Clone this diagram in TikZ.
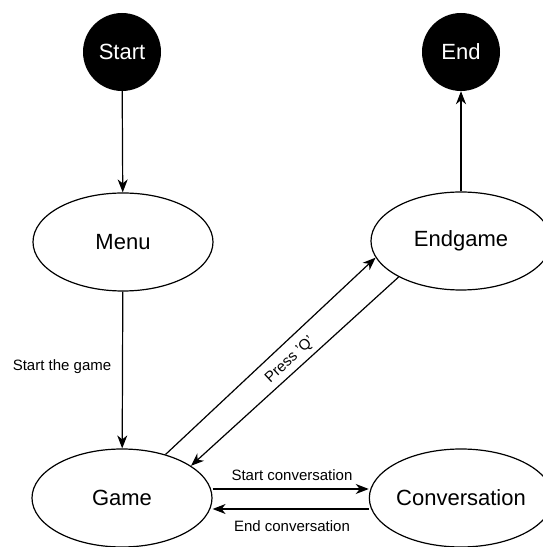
\documentclass[tikz,border=0pt]{standalone}
\usepackage{fontspec}
\setmainfont{Liberation Sans}
\usetikzlibrary{shapes.geometric,arrows.meta}

\begin{document}
\begin{tikzpicture}[x=1pt, y=1pt,
    state/.style={draw, line width=1.2pt, ellipse, inner sep=0pt,
        minimum width=180pt, minimum height=98pt,
        font=\fontsize{22}{26}\selectfont},
    terminal/.style={circle, fill=black, text=white, inner sep=0pt,
        minimum size=78pt, font=\fontsize{22}{26}\selectfont},
    trans/.style={line width=1.2pt, -{Stealth[length=13pt, width=10pt, inset=4pt]}},
    lbl/.style={font=\fontsize{15}{18}\selectfont, inner sep=1pt}]
    \useasboundingbox (0,0) rectangle (542,547);

    \node[terminal] (start) at (122,495) {Start};
    \node[terminal] (end) at (461,495) {End};
    \node[state] (menu) at (123,305) {Menu};
    \node[state] (endgame) at (461,306) {Endgame};
    \node[state] (game) at (122,49) {Game};
    \node[state] (conv) at (461,49) {Conversation};

    \draw[trans] (start) -- (menu);
    \draw[trans] (menu) -- (game);
    \draw[trans] (endgame) -- (end);
    \draw[trans] (game.45) -- (endgame.191);
    \draw[trans] (endgame.210) -- (game.25);
    \draw[trans] ([yshift=9pt]game.east) -- ([yshift=9pt]conv.west);
    \draw[trans] ([yshift=-11pt]conv.west) -- ([yshift=-11pt]game.east);

    \node[lbl] (lmenu) at (62,180) {Start the game};
    \node[lbl, rotate=43] (lq) at (290,187) {Press 'Q'};
    \node[lbl] (lstart) at (292,72) {Start conversation};
    \node[lbl] (lend) at (292,21) {End conversation};
\end{tikzpicture}
\end{document}
